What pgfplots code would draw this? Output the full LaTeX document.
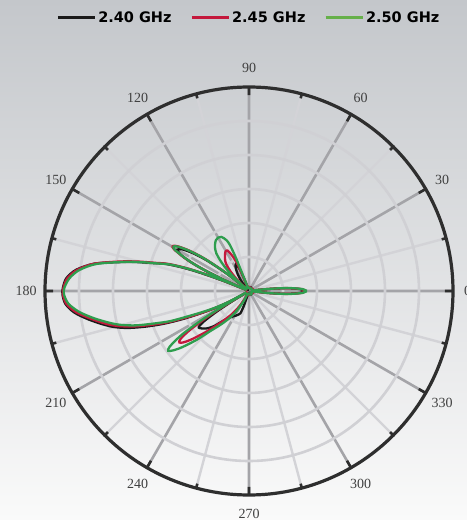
\documentclass[border=0pt]{standalone}
\usepackage{pgfplots}
\pgfplotsset{compat=1.18}
\usepgfplotslibrary{polar}
\usetikzlibrary{calc}
\usepackage{fontspec}
\setmainfont{Liberation Serif}
\newfontfamily\legendfont{DejaVu Sans}

\definecolor{bgtop}{HTML}{C4C7CB}
\definecolor{bgbot}{HTML}{FAFAFA}
\definecolor{rimcol}{HTML}{2E2E2E}
\definecolor{spokemaj}{HTML}{A4A4A8}
\definecolor{spokemin}{HTML}{D3D3D7}
\definecolor{ringcol}{HTML}{D0D0D4}
\definecolor{labcol}{HTML}{404040}
\definecolor{c240}{HTML}{1A1A1A}
\definecolor{c245}{HTML}{C4183C}
\definecolor{c250}{HTML}{2E9E4E}
\definecolor{c250leg}{HTML}{66B04A}

\pgfdeclarelayer{bg}
\pgfsetlayers{bg,main}

% angle (deg)  radius (ring units, 5 per ring, outer circle = 30)
\pgfplotstableread{
ang r
0 8.20
2 7.61
4 5.85
5 4.39
6 2.63
7 1.17
8 0.44
30 0.5
60 0.6
90 0.5
109 0.44
111 1.46
112.5 2.93
114 3.95
116 4.39
118 4.24
121 3.66
124 2.93
127 2.05
130 1.17
133 0.44
140 0.44
142 4.10
144 7.61
146 9.95
148 11.56
150 12.15
152 11.41
153.5 9.66
155 7.02
156.5 3.22
157.5 0.44
158.5 4.10
159.5 7.61
160.5 10.24
162 12.88
164 14.93
165.5 16.98
167.5 19.61
170 23.12
173 25.61
176 26.93
179 27.37
181 27.44
184 27.07
187 25.90
190 24.00
193 21.95
195 20.49
197 18.59
199 16.10
201 13.46
203 10.54
205 7.61
207 5.12
209 2.63
210.5 0.44
211.5 2.93
212.5 5.56
214 8.05
215.5 9.07
217 9.07
219 8.78
222 8.20
225 7.32
228 6.15
231 5.27
234 4.83
238 4.39
242 4.10
246 3.80
249 3.51
251 2.20
253 0.44
270 0.5
300 0.6
330 0.5
352 0.44
354 2.63
355 4.39
356 5.85
358 7.61
360 8.20
}\gainA

\pgfplotstableread{
ang r
0 8.34
2 7.76
4 6.00
5 4.54
6 2.78
7 1.17
8 0.44
30 0.6
60 0.5
90 0.6
109 0.44
111 0.44
112 2.20
113 4.10
115 5.56
118 6.73
121 6.73
124 6.29
127 5.85
130 5.27
133 4.10
136 2.63
138.5 1.17
140 0.44
142 4.54
144 8.20
146 10.68
148 12.44
149.5 13.02
151 12.58
153 10.39
154.5 8.05
156 4.39
157 0.44
158 3.80
159 7.32
160 9.95
161.5 12.58
163.5 14.63
165 16.68
167 19.32
170 23.12
173 25.46
176 26.78
179 27.29
181 27.37
184 26.93
187 25.61
190 23.56
193 21.51
195 19.90
197 17.85
199 15.37
201 12.88
203 9.95
204.5 8.05
206 6.29
208 4.10
209.5 1.76
210.3 0.44
211 4.10
212 7.32
213.5 10.54
215 12.29
216.5 12.73
218 12.29
220 11.12
223 9.07
226 7.32
229 5.85
233 4.39
237 2.93
241 1.46
244 0.44
270 0.6
300 0.5
330 0.6
352 0.44
354 2.78
355 4.54
356 6.00
358 7.76
360 8.34
}\gainB

\pgfplotstableread{
ang r
0 8.49
2 7.90
4 6.15
5 4.68
6 2.93
7 1.32
8 0.44
30 0.5
60 0.45
90 0.5
108 0.44
110.5 1.46
111.5 5.12
112.5 7.32
114 8.20
117 8.93
120 9.07
123 8.93
126 8.49
129 7.90
131 7.32
133 6.29
135 5.12
137 3.51
139 1.46
140 0.44
142 4.39
144 8.05
146 10.54
148 12.29
149.5 12.88
151 12.44
153 10.24
154.5 8.05
156 4.39
157 0.44
158 3.66
159 7.02
160 9.66
161.5 12.29
163.5 14.34
165 16.39
167 19.02
170 22.83
173 25.17
176 26.49
179 27.15
181 27.22
184 26.63
187 25.17
190 23.12
193 20.93
195 19.32
197 17.27
199 14.63
201 12.29
203 9.07
204.5 7.32
206 5.85
208 3.66
209.5 0.44
210.5 4.39
211.5 8.05
213 11.71
215 14.20
216.5 14.78
218 14.20
220 12.88
223 10.54
226 8.20
230 6.44
234 4.98
238 3.51
242 1.76
245 0.44
270 0.5
300 0.6
330 0.5
352 0.44
354 2.93
355 4.68
356 6.15
358 7.90
360 8.49
}\gainC

\begin{document}
\begin{tikzpicture}
\begin{polaraxis}[
  scale only axis, width=408bp, height=408bp,
  ymin=0, ymax=30,
  xtick={0,30,...,330},
  xticklabels={\kern-9bp 0,30,60,90,120,150,180,210,240,270,300,330},
  minor xtick={15,45,...,345},
  ytick={5,10,15,20,25},
  yticklabels={},
  xmajorgrids, xminorgrids, ymajorgrids,
  major x grid style={spokemaj, line width=2.6bp},
  minor x grid style={spokemin, line width=2.4bp},
  major y grid style={ringcol, line width=2.6bp},
  x axis line style={rimcol, line width=3.2bp},
  y axis line style={draw=none},
  tick align=outside,
  major tick length=8bp, minor tick length=4.5bp,
  tick style={rimcol, line width=2.6bp},
  ytick style={draw=none},
  xticklabel style={font=\fontsize{14bp}{14bp}\selectfont, text=labcol, anchor=center, inner sep=0pt},
  xticklabel shift=27bp,
  legend columns=3,
  legend style={draw=none, fill=none, at={(0.5,1.17)}, anchor=center,
    font=\legendfont\bfseries\fontsize{14.5bp}{16bp}\selectfont,
    /tikz/every even column/.append style={column sep=17bp}},
  legend image code/.code={\draw[#1, line width=2.6bp] (0bp,0bp) -- (37bp,0bp);},
]
\coordinate (O) at (axis cs:0,0);
\addplot[c240, line width=2.3bp, smooth, forget plot] table[x=ang, y=r] {\gainA};
\addplot[c245, line width=2.3bp, smooth, forget plot] table[x=ang, y=r] {\gainB};
\addplot[c250, line width=2.3bp, smooth, forget plot] table[x=ang, y=r] {\gainC};
\addlegendimage{c240}
\addlegendentry{2.40 GHz}
\addlegendimage{c245}
\addlegendentry{2.45 GHz}
\addlegendimage{c250leg}
\addlegendentry{2.50 GHz}
\end{polaraxis}
\begin{pgfonlayer}{bg}
\shade[top color=bgtop, bottom color=bgbot] ($(O)+(-249bp,-229bp)$) rectangle ($(O)+(218bp,291bp)$);
\end{pgfonlayer}
\pgfresetboundingbox
\path[use as bounding box] ($(O)+(-249bp,-229bp)$) rectangle ($(O)+(218bp,291bp)$);
\end{tikzpicture}
\end{document}
